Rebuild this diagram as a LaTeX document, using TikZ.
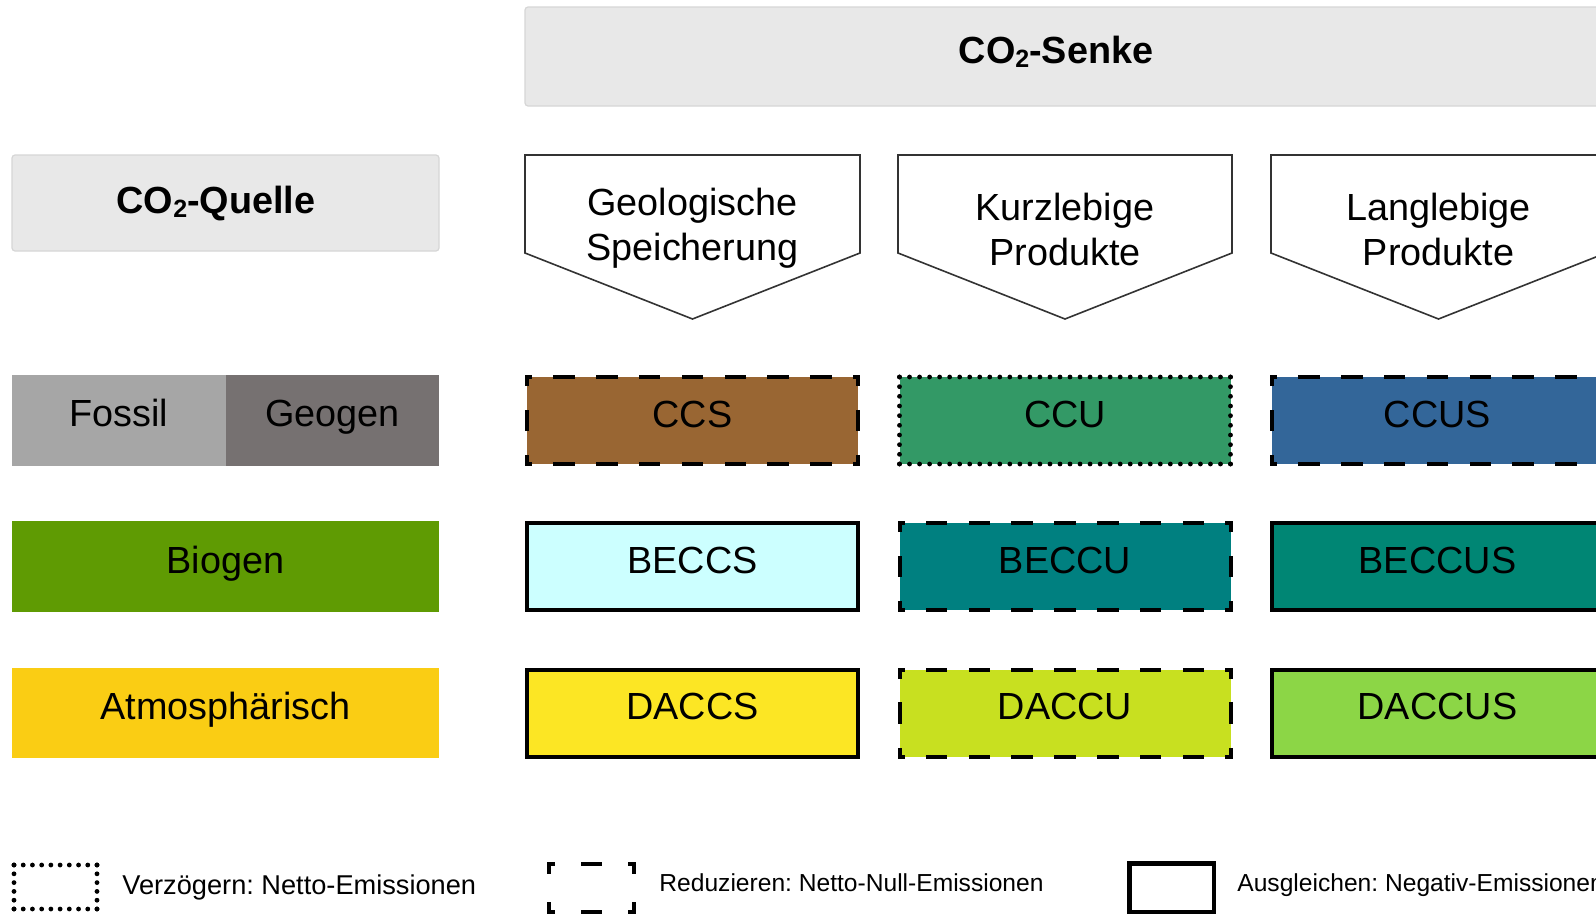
\documentclass[tikz,border=0pt]{standalone}
\usepackage{fontspec}
\setmainfont{Liberation Sans}
\frenchspacing
\definecolor{hdrgrey}{HTML}{E8E8E8}
\definecolor{fossilc}{HTML}{A6A6A6}
\definecolor{geogenc}{HTML}{767171}
\definecolor{biogenc}{HTML}{5F9B03}
\definecolor{atmoc}{HTML}{FACD14}
\definecolor{ccsc}{HTML}{996633}
\definecolor{ccuc}{HTML}{339966}
\definecolor{ccusc}{HTML}{336699}
\definecolor{beccsc}{HTML}{CCFFFF}
\definecolor{beccuc}{HTML}{008080}
\definecolor{beccusc}{HTML}{008674}
\definecolor{daccsc}{HTML}{FCE624}
\definecolor{daccuc}{HTML}{C8E020}
\definecolor{daccusc}{HTML}{8CD646}
\newcommand{\cosub}{\raisebox{-2.3pt}{\fontsize{12.5pt}{12pt}\selectfont 2}}
\newcommand{\boxsides}[3]{%
  \draw[#2] (#1.north west) -- (#1.north east);
  \draw[#2] (#1.south west) -- (#1.south east);
  \draw[#3] (#1.north west) -- (#1.south west);
  \draw[#3] (#1.north east) -- (#1.south east);}
\begin{document}
\begin{tikzpicture}[x=0.5pt,y=-0.5pt,
  mainfont/.style={font=\fontsize{18.9pt}{22.5pt}\selectfont},
  hdr/.style={fill=hdrgrey, draw=black!16, line width=0.6pt, rounded corners=1.5pt, inner sep=0pt, outer sep=0pt},
  hdrtext/.style={anchor=base, inner sep=0pt, font=\fontsize{18.9pt}{22pt}\selectfont\bfseries},
  src/.style={inner sep=0pt, outer sep=0pt, minimum height=45.5pt, text height=10pt, text depth=3.5pt, mainfont},
  cell/.style={inner sep=0pt, outer sep=0pt, minimum width=165.5pt, minimum height=43.5pt, text height=10pt, text depth=3.5pt, mainfont},
  framesolid/.style={draw=black, line width=2pt},
  dashH/.style={line width=2pt, line cap=rect, dash pattern=on 8.8pt off 12.61pt, dash phase=7.3pt},
  dashV/.style={line width=2pt, line cap=rect, dash pattern=on 8.8pt off 13.85pt, dash phase=5.3pt},
  dotH/.style={line width=2.4pt, line cap=round, dash pattern=on 0pt off 5.015pt},
  dotV/.style={line width=2.4pt, line cap=round, dash pattern=on 0pt off 4.833pt},
  legdashH/.style={line width=2pt, line cap=rect, dash pattern=on 8.4pt off 15.05pt, dash phase=6.4pt},
  legdashV/.style={line width=2pt, line cap=rect, dash pattern=on 8pt off 16pt, dash phase=4pt},
  legdotH/.style={line width=2.4pt, line cap=round, dash pattern=on 0pt off 4.611pt},
  legdotV/.style={line width=2.4pt, line cap=round, dash pattern=on 0pt off 4.4pt},
  legbox/.style={inner sep=0pt, outer sep=0pt},
  penta/.style={draw=black!80, line width=0.8pt, fill=white, line join=miter},
  pentatext/.style={mainfont, align=center, inner sep=0pt, anchor=north},
  legtext/.style={inner sep=0pt, anchor=base west}
]
\useasboundingbox (0,0) rectangle (1596,916);
\clip (0,0) rectangle (1596,916);

% headers
\node[hdr, minimum width=547.5pt, minimum height=49.5pt] (senke) at (1072.5,56.5) {};
\node[hdrtext] (senketext) at (1056,63) {CO\cosub-Senke};
\node[hdr, minimum width=213.5pt, minimum height=48pt] (quelle) at (225.5,203) {};
\node[hdrtext] (quelletext) at (216,213) {CO\cosub-Quelle};

% pentagons
\draw[penta] (525,155) -- (860,155) -- (860,253) -- (692.5,319) -- (525,253) -- cycle;
\draw[penta] (898,155) -- (1232,155) -- (1232,253) -- (1065,319) -- (898,253) -- cycle;
\draw[penta] (1271,155) -- (1606,155) -- (1606,253) -- (1438.5,319) -- (1271,253) -- cycle;
\node[pentatext] (geo) at (692.5,188) {Geologische\\Speicherung};
\node[pentatext] (kurz) at (1065,193) {Kurzlebige\\Produkte};
\node[pentatext] (lang) at (1438.5,193) {Langlebige\\Produkte};

% sources
\node[src, fill=fossilc, minimum width=107pt] (fossil) at (119,420) {Fossil};
\node[src, fill=geogenc, minimum width=106.5pt] (geogen) at (332.5,420) {Geogen};
\node[src, fill=biogenc, minimum width=213.5pt] (biogen) at (225.5,566.5) {Biogen};
\node[src, fill=atmoc, minimum width=213.5pt, minimum height=45pt] (atmo) at (225.5,713) {Atmosphärisch};

% cells
\node[cell, fill=ccsc] (ccs) at (692.5,420.5) {CCS};
\boxsides{ccs}{dashH}{dashV}
\node[cell, fill=ccuc] (ccu) at (1065,420.5) {CCU};
\boxsides{ccu}{dotH}{dotV}
\node[cell, fill=ccusc] (ccus) at (1437.5,420.5) {CCUS};
\boxsides{ccus}{dashH}{dashV}

\node[cell, fill=beccsc, framesolid] (beccs) at (692.5,566.5) {BECCS};
\node[cell, fill=beccuc] (beccu) at (1065,566.5) {BECCU};
\boxsides{beccu}{dashH}{dashV}
\node[cell, fill=beccusc, framesolid] (beccus) at (1437.5,566.5) {BECCUS};

\node[cell, fill=daccsc, framesolid] (daccs) at (692.5,713) {DACCS};
\node[cell, fill=daccuc] (daccu) at (1065,713) {DACCU};
\boxsides{daccu}{dashH}{dashV}
\node[cell, fill=daccusc, framesolid] (daccus) at (1437.5,713) {DACCUS};

% legend
\node[legbox, minimum width=41.5pt, minimum height=22pt] (legdot) at (55.5,887) {};
\boxsides{legdot}{legdotH}{legdotV}
\node[legtext, font=\fontsize{13.6pt}{16pt}\selectfont] (legdottext) at (122,894) {Verzögern: Netto-Emissionen};

\node[legbox, minimum width=42.5pt, minimum height=24pt] (legdash) at (591.5,888) {};
\boxsides{legdash}{legdashH}{legdashV}
\node[legtext, font=\fontsize{12.3pt}{15pt}\selectfont] (legdashtext) at (659,891) {Reduzieren: Netto-Null-Emissionen};

\node[legbox, draw=black, line width=2.25pt, minimum width=42.25pt, minimum height=24.25pt] (legsolid) at (1171.5,887.5) {};
\node[legtext, font=\fontsize{12.3pt}{15pt}\selectfont] (legsolidtext) at (1237,891) {Ausgleichen: Negativ-Emissionen};
\end{tikzpicture}
\end{document}
